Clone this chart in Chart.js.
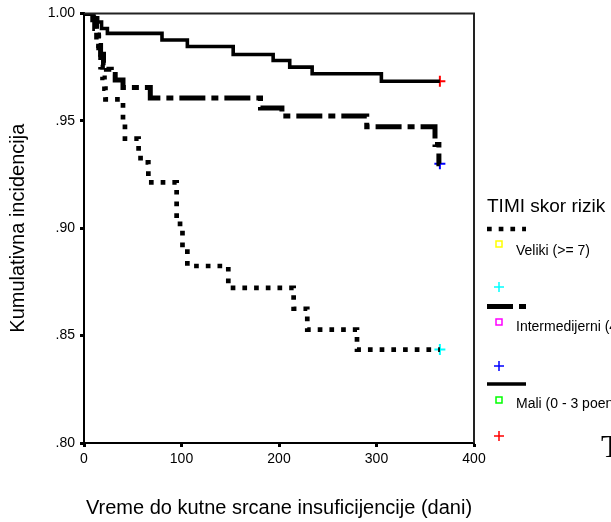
<!DOCTYPE html>
<html>
<head>
<meta charset="utf-8">
<script src="https://cdn.jsdelivr.net/npm/chart.js@4.4.1/dist/chart.umd.min.js"></script>
<style>
  html, body { margin: 0; padding: 0; background: #fff; }
  #km { display: block; }
</style>
</head>
<body>
<canvas id="km" width="611" height="522"></canvas>
<script>
'use strict';

// ── DATA ──────────────────────────────────────────────────────

const GROUP_LABELS = ['Veliki (>= 7)', 'Intermedijerni (4 - 6 poena)', 'Mali (0 - 3 poena)'];
const LEGEND_TITLE = 'TIMI skor rizik';
const X_TITLE = 'Vreme do kutne srcane insuficijencije (dani)';
const Y_TITLE = 'Kumulativna incidencija';

const X_TICKS = [0, 100, 200, 300, 400];
const Y_TICKS = [0.80, 0.85, 0.90, 0.95, 1.00];

// Veliki (>= 7)
const VELIKI_DAYS = [0, 10, 13, 15, 17, 19, 21, 22, 40, 42, 56, 58, 66, 95, 101, 106, 148, 215, 229, 280, 365];
const VELIKI_SURV = [1, .995, .99, .982, .975, .97, .965, .96, .95, .9417, .9347, .9306, .9213, .902, .891, .8824, .8722, .8625, .8528, .8435, .8435];

// Intermedijerni (4 - 6)
const INTER_DAYS = [0, 9, 11, 13, 15, 17, 20, 23, 28, 32, 40, 68, 181, 203, 290, 360, 364, 365];
const INTER_SURV = [1, .997, .993, .989, .985, .981, .977, .974, .9715, .969, .9655, .9606, .956, .9522, .9472, .939, .930, .930];

// Mali (0 - 3)
const MALI_DAYS = [0, 10, 14, 18, 24, 80, 106, 153, 194, 211, 234, 305, 365];
const MALI_SURV = [1, .998, .996, .993, .9907, .9876, .9846, .9809, .9781, .975, .9719, .9684, .9684];

// last follow-up (censored) per group
const CENSOR_DAYS = [365, 365, 365];

// ── STYLES ────────────────────────────────────────────────────

const FONT = 'Arial, "Liberation Sans", sans-serif';
const CENSOR_COLORS = ['#00ffff', '#0000ff', '#ff0000'];
const SQUARE_COLORS = ['#ffff00', '#ff00ff', '#00ff00'];
const LINE_STYLES = [
  { width: 4.7, dash: [4.7, 7] },
  { width: 5,   dash: [26, 6, 7, 6] },
  { width: 3.6, dash: [] },
];

// legend layout (pixels)
const LEG = {
  x: 487, sampleLen: 39, markX: 499, textX: 516, titleBase: 212,
  lineY:   [229, 306.5, 384],
  squareY: [244, 322, 400],
  textY:   [254.5, 331, 407.5],
  plusY:   [287, 366, 436],
};

const toPoints = (days, surv) => days.map((d, i) => ({ x: d, y: surv[i] }));
const series = [
  toPoints(VELIKI_DAYS, VELIKI_SURV),
  toPoints(INTER_DAYS, INTER_SURV),
  toPoints(MALI_DAYS, MALI_SURV),
];

const curveSets = series.map((pts, i) => ({
  label: GROUP_LABELS[i],
  data: pts,
  stepped: true,
  borderColor: '#000',
  borderWidth: LINE_STYLES[i].width,
  borderDash: LINE_STYLES[i].dash,
  borderCapStyle: 'butt',
  borderJoinStyle: 'miter',
  pointRadius: 0,
  fill: false,
}));

const censorSets = series.map((pts, i) => ({
  label: GROUP_LABELS[i] + ' censored',
  data: [{ x: CENSOR_DAYS[i], y: pts[pts.length - 1].y }],
  showLine: false,
  pointStyle: 'cross',
  pointRadius: 5.5,
  pointBorderWidth: 2,
  pointBorderColor: CENSOR_COLORS[i],
  borderColor: CENSOR_COLORS[i],
}));

// ── PLUGIN: box + SPSS-like legend ────────────────────────────

const kmDecor = {
  id: 'kmDecor',
  afterDraw(chart) {
    const { ctx, chartArea: a } = chart;
    ctx.save();

    // top and right frame
    ctx.strokeStyle = '#222';
    ctx.lineWidth = 2;
    ctx.beginPath();
    ctx.moveTo(a.left, a.top);
    ctx.lineTo(a.right, a.top);
    ctx.lineTo(a.right, a.bottom);
    ctx.stroke();

    // legend title
    ctx.fillStyle = '#000';
    ctx.font = '19px ' + FONT;
    ctx.textAlign = 'left';
    ctx.textBaseline = 'alphabetic';
    ctx.fillText(LEGEND_TITLE, LEG.x, LEG.titleBase);

    GROUP_LABELS.forEach((label, i) => {
      // line sample
      ctx.strokeStyle = '#000';
      ctx.lineWidth = LINE_STYLES[i].width;
      ctx.lineCap = 'butt';
      ctx.setLineDash(LINE_STYLES[i].dash);
      ctx.beginPath();
      ctx.moveTo(LEG.x, LEG.lineY[i]);
      ctx.lineTo(LEG.x + LEG.sampleLen, LEG.lineY[i]);
      ctx.stroke();
      ctx.setLineDash([]);

      // hollow square
      ctx.strokeStyle = SQUARE_COLORS[i];
      ctx.lineWidth = 1.5;
      ctx.strokeRect(LEG.markX - 3, LEG.squareY[i] - 3, 6, 6);

      // label
      ctx.fillStyle = '#000';
      ctx.font = '14px ' + FONT;
      ctx.fillText(label, LEG.textX, LEG.textY[i]);

      // censor plus
      ctx.strokeStyle = CENSOR_COLORS[i];
      ctx.lineWidth = 1.5;
      ctx.beginPath();
      ctx.moveTo(LEG.markX - 5, LEG.plusY[i]);
      ctx.lineTo(LEG.markX + 5, LEG.plusY[i]);
      ctx.moveTo(LEG.markX, LEG.plusY[i] - 5);
      ctx.lineTo(LEG.markX, LEG.plusY[i] + 5);
      ctx.stroke();
    });

    // stray serif letter at the bottom right of the source image
    ctx.fillStyle = '#000';
    ctx.font = '32px "Liberation Serif", "Times New Roman", serif';
    ctx.fillText('T', 601, 457);

    ctx.restore();
  },
};

// ── CHART ─────────────────────────────────────────────────────

Chart.defaults.font.family = FONT;
Chart.defaults.color = '#000';

new Chart(document.getElementById('km'), {
  type: 'line',
  data: { datasets: [...curveSets, ...censorSets] },
  options: {
    responsive: false,
    animation: false,
    devicePixelRatio: 1,
    layout: { padding: { top: 11, right: 137, left: 0, bottom: 0 } },
    plugins: { legend: { display: false }, tooltip: { enabled: false } },
    scales: {
      x: {
        type: 'linear',
        min: 0, max: 400,
        afterBuildTicks: s => { s.ticks = X_TICKS.map(v => ({ value: v })); },
        afterFit: s => { s.height = 79; },
        grid: { drawOnChartArea: false, drawTicks: true, tickLength: 4, tickWidth: 3, tickColor: '#000' },
        border: { display: true, color: '#000', width: 2 },
        ticks: { font: { size: 14 }, padding: 4, color: '#000', maxRotation: 0 },
        title: { display: true, text: X_TITLE, font: { size: 20 }, padding: { top: 0, bottom: 2 }, color: '#000' },
      },
      y: {
        type: 'linear',
        min: 0.80, max: 1.00,
        afterBuildTicks: s => { s.ticks = Y_TICKS.map(v => ({ value: v })); },
        afterFit: s => { s.width = 84; },
        grid: { drawOnChartArea: false, drawTicks: true, tickLength: 4, tickWidth: 3, tickColor: '#000' },
        border: { display: true, color: '#000', width: 2 },
        ticks: {
          font: { size: 14 }, padding: 5, color: '#000',
          callback: v => { const s = Number(v).toFixed(2); return s.startsWith('0') ? s.slice(1) : s; },
        },
        title: { display: true, text: Y_TITLE, font: { size: 20 }, padding: { top: 6, bottom: 0 }, color: '#000' },
      },
    },
  },
  plugins: [kmDecor],
});
</script>
</body>
</html>
